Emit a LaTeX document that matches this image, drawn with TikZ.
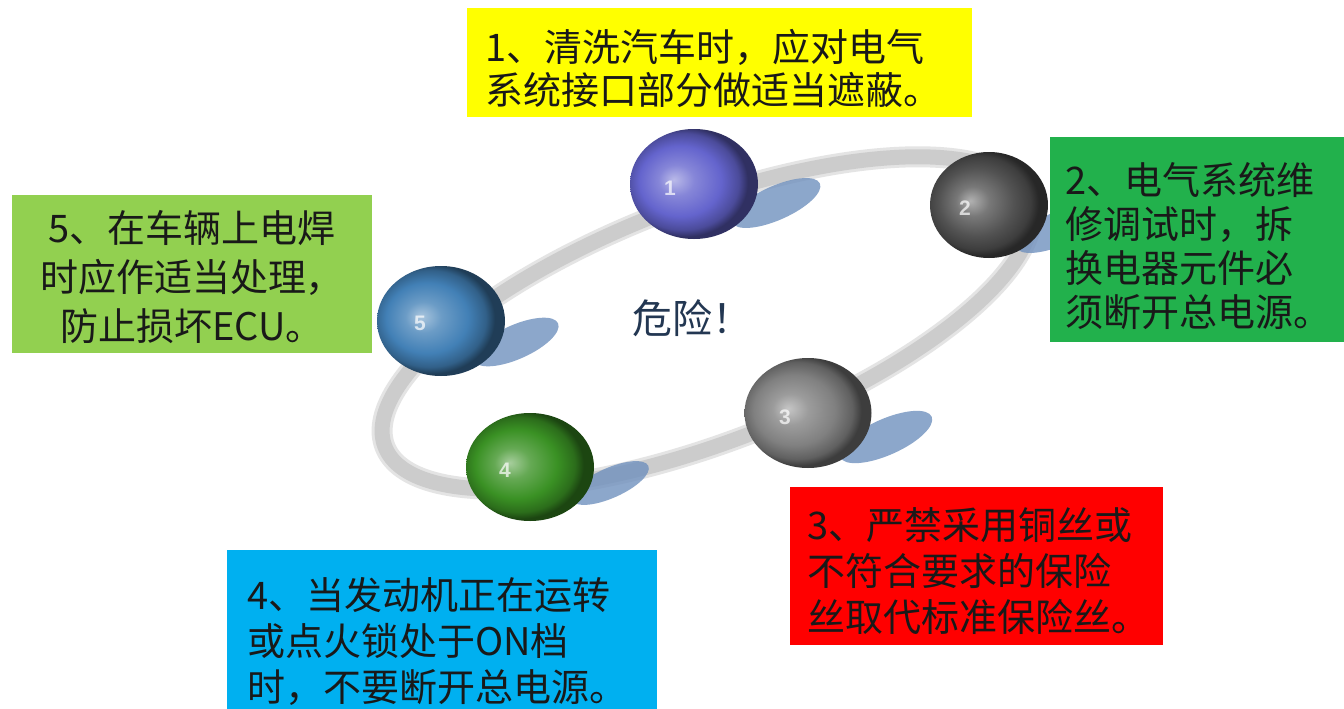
\documentclass[tikz,border=0pt]{standalone}
\usepackage{fontspec}
\newfontfamily\cjk{Noto Sans CJK SC}
\newfontfamily\numfont{Liberation Sans}
\usetikzlibrary{calc,shapes.geometric}

% colours
\definecolor{boxyellow}{RGB}{255,255,0}
\definecolor{boxgreen}{RGB}{34,177,76}
\definecolor{boxlime}{RGB}{146,208,80}
\definecolor{boxred}{RGB}{255,0,0}
\definecolor{boxblue}{RGB}{0,176,240}
\definecolor{ballone}{RGB}{100,100,205}
\definecolor{balltwo}{RGB}{82,82,82}
\definecolor{ballthree}{RGB}{128,128,128}
\definecolor{ballfour}{RGB}{58,145,36}
\definecolor{ballfive}{RGB}{66,128,182}
\definecolor{shadowcol}{RGB}{112,145,190}
\definecolor{ringcol}{RGB}{204,204,204}
\definecolor{ringedge}{RGB}{228,228,228}
\definecolor{dangercol}{RGB}{35,55,82}
\definecolor{textcol}{RGB}{25,25,25}

% glossy sphere shading, colour taken from sphcol
\colorlet{sphcol}{gray}
\pgfdeclareradialshading[sphcol]{sphere}{\pgfpoint{-8bp}{2bp}}{%
  color(0bp)=(sphcol!45!white);
  color(7bp)=(sphcol!78!white);
  color(16bp)=(sphcol);
  color(22bp)=(sphcol!75!black);
  color(25bp)=(sphcol!48!black);
  color(50bp)=(sphcol!48!black)}

\begin{document}
\begin{tikzpicture}[x=1pt,y=-1pt,
  sphcolor/.code={\colorlet{sphcol}{#1}},
  ball/.style={ellipse, minimum width=128pt, minimum height=110pt, inner sep=0pt, shade, shading=sphere, sphcolor=#1},
  balllabel/.style={font=\numfont\bfseries\fontsize{21}{21}\selectfont, text=white, opacity=0.7},
  ballshadow/.style={fill=shadowcol, opacity=0.8},
  notebox/.style={rectangle, inner sep=0pt, anchor=north west, fill=#1},
  notetext/.style={font=\cjk\fontsize{38}{#1}\selectfont, text=textcol, inner sep=0pt, align=left, anchor=west}
]
\useasboundingbox (0,0) rectangle (1344,709);
\fill[white] (0,0) rectangle (1344,709);

% tilted orbit ring
\coordinate (rc) at (707,323);
\draw[line width=21pt, draw=ringedge, rotate around={21:(rc)}] (rc) ellipse [x radius=345pt, y radius=119pt];
\draw[line width=15pt, draw=ringcol, rotate around={21:(rc)}] (rc) ellipse [x radius=345pt, y radius=119pt];

% shadows cast by the spheres
\fill[ballshadow, rotate around={24:(776,203)}] (776,203) ellipse [x radius=48pt, y radius=17pt];
\fill[ballshadow, rotate around={24:(1060,228)}] (1060,228) ellipse [x radius=48pt, y radius=17pt];
\fill[ballshadow, rotate around={24:(516,342)}] (516,342) ellipse [x radius=46pt, y radius=17pt];
\fill[ballshadow, rotate around={24:(886,437)}] (886,437) ellipse [x radius=50pt, y radius=18pt];
\fill[ballshadow, rotate around={24:(610,483)}] (610,483) ellipse [x radius=42pt, y radius=15pt];

% spheres
\node[ball=ballone] (s1) at (694,184) {};
\node[ball=balltwo, minimum width=118pt, minimum height=106pt] (s2) at (989,205) {};
\node[ball=ballfive] (s5) at (441,321) {};
\node[ball=ballthree, minimum width=127pt] (s3) at (808,413) {};
\node[ball=ballfour, minimum height=108pt] (s4) at (530,467) {};

\node[balllabel] (l1) at ($(s1)+(-24,4)$) {1};
\node[balllabel] (l2) at ($(s2)+(-24,3)$) {2};
\node[balllabel] (l5) at ($(s5)+(-21,2)$) {5};
\node[balllabel] (l3) at ($(s3)+(-23,4)$) {3};
\node[balllabel] (l4) at ($(s4)+(-25,3)$) {4};

% centre caption
\node[font=\cjk\fontsize{40}{40}\selectfont, text=dangercol, inner sep=0pt] (danger) at (692,318) {危险！};

% note boxes
\node[notebox=boxyellow, minimum width=505pt, minimum height=109pt] (b1) at (467,8) {};
\node[notetext=43] (t1) at (485,68) {1、清洗汽车时，应对电气\\系统接口部分做适当遮蔽。};

\node[notebox=boxgreen, minimum width=294pt, minimum height=205pt] (b2) at (1050,137) {};
\node[notetext=44] (t2) at (1065,246) {2、电气系统维\\修调试时，拆\\换电器元件必\\须断开总电源。};

\node[notebox=boxlime, minimum width=360pt, minimum height=158pt] (b5) at (12,195) {};
\node[notetext=49, align=center, anchor=center] (t5) at (192,277) {5、在车辆上电焊\\时应作适当处理，\\防止损坏ECU。};

\node[notebox=boxred, minimum width=373pt, minimum height=158pt] (b3) at (790,487) {};
\node[notetext=46] (t3) at (807,571) {3、严禁采用铜丝或\\不符合要求的保险\\丝取代标准保险丝。};

\node[notebox=boxblue, minimum width=430pt, minimum height=159pt] (b4) at (227,550) {};
\node[notetext=46] (t4) at (247,641) {4、当发动机正在运转\\或点火锁处于ON档\\时，不要断开总电源。};
\end{tikzpicture}
\end{document}
